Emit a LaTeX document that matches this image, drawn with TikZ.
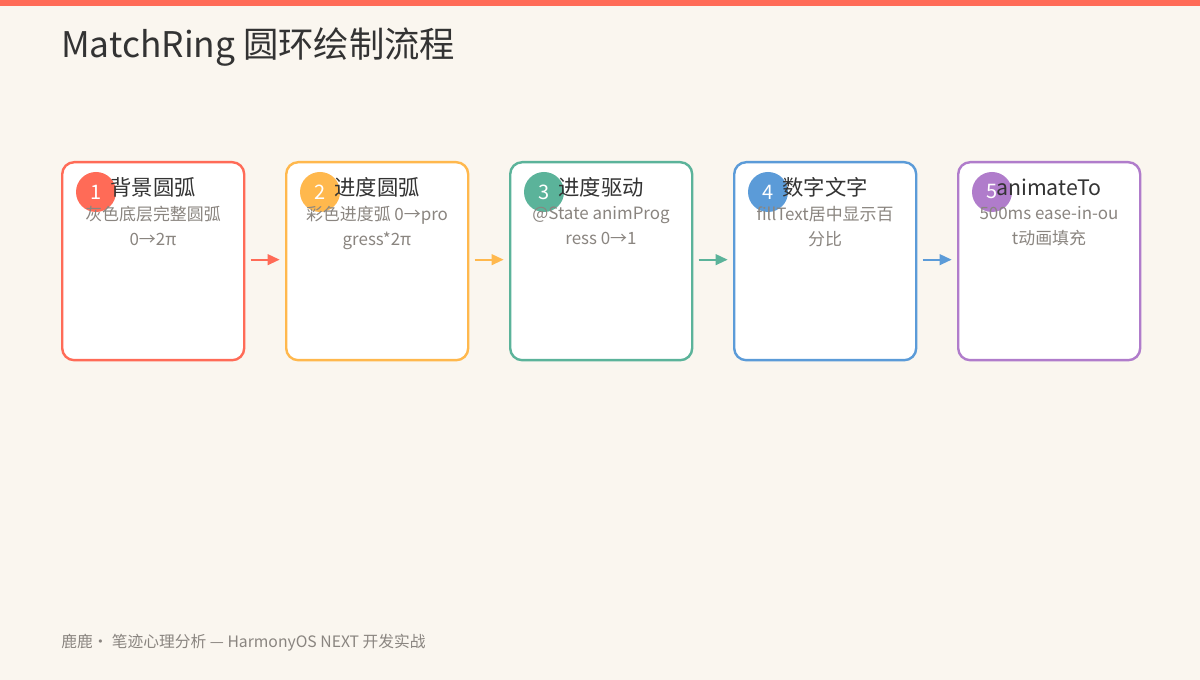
\documentclass[tikz,border=0pt]{standalone}
\usepackage{fontspec}
\setmainfont{Noto Sans CJK SC}
\usetikzlibrary{arrows.meta}
\definecolor{bg}{HTML}{FAF6EF}
\definecolor{cA}{HTML}{FF6B57}
\definecolor{cB}{HTML}{FFB84D}
\definecolor{cC}{HTML}{5BB39A}
\definecolor{cD}{HTML}{5B9BD8}
\definecolor{cE}{HTML}{B07CCB}
\definecolor{ink}{HTML}{333333}
\definecolor{sub}{HTML}{8A8580}
\begin{document}
\begin{tikzpicture}[x=0.75pt,y=-0.75pt,
 box/.style={draw=#1,line width=1.8pt,fill=white,rounded corners=9pt,minimum width=182*0.75pt,minimum height=198*0.75pt,anchor=north west,inner sep=0pt},
 badge/.style={circle,fill=#1,minimum size=40*0.75pt,inner sep=0pt,text=white,font=\fontsize{15}{15}\selectfont},
 ttl/.style={text=ink,font=\fontsize{16}{16}\selectfont,inner sep=0pt},
 txt/.style={text=sub,font=\fontsize{12.7}{19}\selectfont,align=center,inner sep=0pt},
 arr/.style={draw=#1,line width=1.5pt,-{Triangle[length=9pt,width=8pt]}}]
\useasboundingbox (0,0) rectangle (1200,680);
\fill[bg] (0,0) rectangle (1200,680);
\fill[cA] (0,0) rectangle (1200,6);
\node[anchor=west,text=ink,font=\fontsize{26.5}{26.5}\selectfont,inner sep=0pt] (title) at (61,47) {MatchRing 圆环绘制流程};
\foreach \i/\c/\t/\s [count=\n] in {0/cA/背景圆弧/{灰色底层完整圆弧\\0→2π},1/cB/进度圆弧/{彩色进度弧 0→pro\\gress*2π},2/cC/进度驱动/{@State animProg\\ress 0→1},3/cD/数字文字/{fillText居中显示百\\分比},4/cE/animateTo/{500ms ease-in-ou\\t动画填充}}{
 \node[box=\c] (b\n) at (61+224*\i,161) {};
 \node[badge=\c] (c\n) at (96+224*\i,192) {\n};
 \node[ttl] (t\n) at (153+224*\i,187) {\t};
 \node[txt,anchor=north] (s\n) at (153+224*\i,206) {\s};
}
\foreach \a/\b/\c in {1/2/cA,2/3/cB,3/4/cC,4/5/cD}{
 \coordinate (p\a) at ([xshift=4pt,yshift=-74pt]b\a.north east);
 \coordinate (q\a) at ([xshift=-4pt,yshift=-74pt]b\b.north west);
 \draw[arr=\c] (p\a) -- (q\a);
}
\node[anchor=west,text=sub,font=\fontsize{11.8}{11.8}\selectfont,inner sep=0pt] (foot) at (61,643) {鹿鹿· 笔迹心理分析 — HarmonyOS NEXT 开发实战};
\end{tikzpicture}
\end{document}
